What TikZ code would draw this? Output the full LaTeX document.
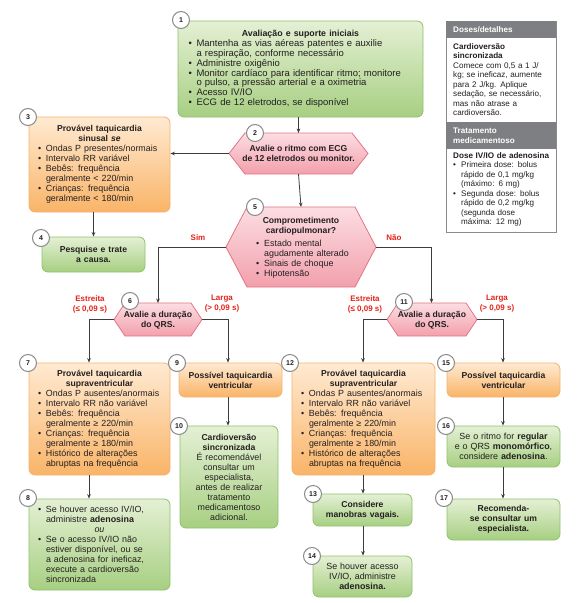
\documentclass[tikz,border=0pt]{standalone}
\usepackage{fontspec}
\setmainfont{Liberation Sans}
\usetikzlibrary{arrows.meta,calc}

\definecolor{txt}{HTML}{231F20}
\definecolor{gtop}{HTML}{E4F0D4}
\definecolor{gbot}{HTML}{A7CF82}
\definecolor{gbrd}{HTML}{8DC26A}
\definecolor{otop}{HTML}{FFEAD2}
\definecolor{obot}{HTML}{F9B468}
\definecolor{obrd}{HTML}{F4B36E}
\definecolor{ptop}{HTML}{FCDDE2}
\definecolor{pbot}{HTML}{F2A0AC}
\definecolor{pbrd}{HTML}{E27486}
\definecolor{redl}{HTML}{E2231A}
\definecolor{linec}{HTML}{3C3C3C}
\definecolor{hdr}{HTML}{7E7F82}
\definecolor{cbrd}{HTML}{8A8A8A}

\newcommand{\bl}[1]{{\leftskip=8pt\noindent\hspace*{-8pt}\makebox[8pt][l]{•}#1\par}}
\newcommand{\ttl}[1]{{\centering\fontsize{8.6}{10}\selectfont\bfseries #1\par}}
\newcommand{\hexa}[6]{% name, cx, cy, half width, half height, inset
  \coordinate (#1L) at ({#2-#4},#3);
  \coordinate (#1R) at ({#2+#4},#3);
  \coordinate (#1T) at (#2,{#3-#5});
  \coordinate (#1B) at (#2,{#3+#5});
  \path[hexs] (#1L) -- ({#2-#4+#6},{#3-#5}) -- ({#2+#4-#6},{#3-#5}) -- (#1R)
     -- ({#2+#4-#6},{#3+#5}) -- ({#2-#4+#6},{#3+#5}) -- cycle;}

\tikzset{
  basebox/.style={rounded corners=6pt, line width=0.8pt, text=txt, inner sep=0pt,
     align=left, font=\fontsize{8.9}{10}\selectfont},
  gbox/.style={basebox, draw=gbrd, top color=gtop, bottom color=gbot},
  obox/.style={basebox, draw=obrd, top color=otop, bottom color=obot},
  hexs/.style={draw=pbrd, line width=0.8pt, top color=ptop, bottom color=pbot},
  htext/.style={text=txt, inner sep=0pt, align=center, font=\fontsize{8.6}{10}\selectfont\bfseries},
  num/.style={circle, draw=cbrd, fill=white, line width=1pt, minimum size=17pt,
     inner sep=0pt, font=\fontsize{7}{7}\selectfont\bfseries, text=txt},
  lab/.style={text=redl, inner sep=0pt, align=center, font=\fontsize{8}{10}\selectfont\bfseries},
  arr/.style={-{Stealth[length=4.5pt,width=3.6pt]}, draw=linec, line width=0.8pt},
  ptext/.style={text=txt, inner sep=0pt, align=left, font=\fontsize{8.1}{9.5}\selectfont},
}

\begin{document}
\begin{tikzpicture}[x=1pt,y=-1pt]
\useasboundingbox (0,0) rectangle (582,603);

% ---------- boxes ----------
\node[gbox, minimum width=245pt, minimum height=96pt, text width=224pt, font=\fontsize{9.5}{9.8}\selectfont] (b1) at (300.5,69) {%
{\centering\fontsize{8.8}{10.5}\selectfont\bfseries Avaliação e suporte iniciais\par}
\bl{Mantenha as vias aéreas patentes e auxilie\\a respiração, conforme necessário}
\bl{Administre oxigênio}
\bl{Monitor cardíaco para identificar ritmo; monitore\\o pulso, a pressão arterial e a oximetria}
\bl{Acesso IV/IO}
\bl{ECG de 12 eletrodos, se disponível}};

\node[obox, minimum width=141pt, minimum height=95pt, text width=123pt] (b3) at (99.5,164.5) {%
\ttl{Provável taquicardia\\sinusal \textit{se}}
\bl{Ondas P presentes/normais}
\bl{Intervalo RR variável}
\bl{Bebês: frequência\\geralmente < 220/min}
\bl{Crianças: frequência\\geralmente < 180/min}};

\node[gbox, minimum width=103pt, minimum height=35pt, text width=95pt] (b4) at (93.5,254.5) {%
\ttl{Pesquise e trate\\a causa.}};

\node[obox, minimum width=141pt, minimum height=112pt, text width=123pt] (b7) at (99.5,419) {%
\ttl{Provável taquicardia\\supraventricular}
\bl{Ondas P ausentes/anormais}
\bl{Intervalo RR não variável}
\bl{Bebês: frequência\\geralmente ≥ 220/min}
\bl{Crianças: frequência\\geralmente ≥ 180/min}
\bl{Histórico de alterações\\abruptas na frequência}};

\node[gbox, minimum width=141pt, minimum height=91pt, text width=123pt] (b8) at (99.5,544.5) {%
\bl{Se houver acesso IV/IO,\\administre \textbf{adenosina}}
{\centering\itshape ou\par}
\bl{Se o acesso IV/IO não\\estiver disponível, ou se\\a adenosina for ineficaz,\\execute a cardioversão\\sincronizada}};

\node[obox, minimum width=103pt, minimum height=34pt, text width=97pt] (b9) at (230.5,380) {%
\ttl{Possível taquicardia\\ventricular}};

\node[gbox, minimum width=98pt, minimum height=102pt, text width=92pt] (b10) at (229,477) {%
\ttl{Cardioversão\\sincronizada}
{\centering É recomendável\\consultar um\\especialista,\\antes de realizar\\tratamento\\medicamentoso\\adicional.\par}};

\node[obox, minimum width=143pt, minimum height=112pt, text width=125pt] (b12) at (363.5,419) {%
\ttl{Provável taquicardia\\supraventricular}
\bl{Ondas P ausentes/anormais}
\bl{Intervalo RR não variável}
\bl{Bebês: frequência\\geralmente ≥ 220/min}
\bl{Crianças: frequência\\geralmente ≥ 180/min}
\bl{Histórico de alterações\\abruptas na frequência}};

\node[gbox, minimum width=99pt, minimum height=32pt, text width=93pt] (b13) at (362.5,510) {%
\ttl{Considere\\manobras vagais.}};

\node[gbox, minimum width=99pt, minimum height=41pt, text width=93pt] (b14) at (362.5,576.5) {%
{\centering Se houver acesso\\IV/IO, administre\\\textbf{adenosina.}\par}};

\node[obox, minimum width=113pt, minimum height=34pt, text width=107pt] (b15) at (503.5,380) {%
\ttl{Possível taquicardia\\ventricular}};

\node[gbox, minimum width=113pt, minimum height=41pt, text width=107pt] (b16) at (503.5,446.5) {%
{\centering Se o ritmo for \textbf{regular}\\e o QRS \textbf{monomórfico},\\considere \textbf{adenosina}.\par}};

\node[gbox, minimum width=113pt, minimum height=41pt, text width=107pt] (b17) at (503.5,519.5) {%
\ttl{Recomenda-\\se consultar um\\especialista.}};

% ---------- hexagons ----------
\hexa{h2}{298.5}{153.5}{69.5}{20.5}{16}
\node[htext] (t2) at (298.5,153.5) {Avalie o ritmo com ECG\\de 12 eletrodos ou monitor.};

\hexa{h5}{301}{247}{75}{40}{21}
\node[htext] (t5) at (301,226) {Comprometimento\\cardiopulmonar?};
\node[text=txt, inner sep=0pt, align=left, anchor=north west, text width=100pt, font=\fontsize{8.9}{10}\selectfont] (t5b) at (256,239.5) {%
\bl{Estado mental\\agudamente alterado}
\bl{Sinais de choque}
\bl{Hipotensão}};

\hexa{h6}{158}{319.5}{44}{16.5}{11}
\node[htext] (t6) at (158,320) {Avalie a duração\\do QRS.};

\hexa{h11}{432}{319.5}{45}{16.5}{11}
\node[htext] (t11) at (432,320) {Avalie a duração\\do QRS.};

% ---------- side panel ----------
\node[draw=cbrd, line width=0.8pt, fill=white, minimum width=110pt, minimum height=211pt, inner sep=0pt] (panel) at (501,126.5) {};
\node[fill=hdr, minimum width=110pt, minimum height=17pt, inner sep=0pt] (hd1) at (501,29.5) {};
\node[anchor=west, text=white, inner sep=0pt, font=\fontsize{8.1}{9.5}\selectfont\bfseries] (hd1t) at (453,29.5) {Doses/detalhes};
\node[fill=hdr, minimum width=110pt, minimum height=27pt, inner sep=0pt] (hd2) at (501,135.5) {};
\node[anchor=west, text=white, inner sep=0pt, align=left, font=\fontsize{8.1}{9.5}\selectfont\bfseries] (hd2t) at (453,135.5) {Tratamento\\medicamentoso};
\node[ptext, anchor=north west, text width=102pt] (pt1) at (453,43) {%
\textbf{Cardioversão\\sincronizada}\\Comece com 0,5 a 1 J/\\kg; se ineficaz, aumente\\para 2 J/kg. Aplique\\sedação, se necessário,\\mas não atrase a\\cardioversão.};
\node[ptext, anchor=north west, text width=102pt] (pt2) at (453,152) {%
\textbf{Dose IV/IO de adenosina}\par
\bl{Primeira dose: bolus\\rápido de 0,1 mg/kg\\(máximo: 6 mg)}
\bl{Segunda dose: bolus\\rápido de 0,2 mg/kg\\(segunda dose\\máxima: 12 mg)}};

% ---------- corner coordinates ----------
\coordinate (c5l) at (158,247);
\coordinate (c5r) at (431.5,247);
\coordinate (c6l) at (89,319.5);
\coordinate (c6r) at (228,319.5);
\coordinate (c11l) at (363,319.5);
\coordinate (c11r) at (503,319.5);

% ---------- connectors ----------
\draw[arr] (b1.south -| h2T) -- (h2T);
\draw[arr] (h2L) -- (h2L -| b3.east);
\draw[arr] (b3.south -| b4.north) -- (b4.north);
\draw[arr] (h2B) -- (h5T);
\draw[arr] (h5L) -- (c5l) -- (h6T);
\draw[arr] (h5R) -- (c5r) -- (c5r |- h11T);
\draw[arr] (h6L) -- (c6l) -- (c6l |- b7.north);
\draw[arr] (h6R) -- (c6r) -- (c6r |- b9.north);
\draw[arr] (c6r |- b9.south) -- (c6r |- b10.north);
\draw[arr] (c6l |- b7.south) -- (c6l |- b8.north);
\draw[arr] (h11L) -- (c11l) -- (c11l |- b12.north);
\draw[arr] (h11R) -- (c11r) -- (c11r |- b15.north);
\draw[arr] (c11r |- b15.south) -- (c11r |- b16.north);
\draw[arr] (c11r |- b16.south) -- (c11r |- b17.north);
\draw[arr] (c11l |- b12.south) -- (c11l |- b13.north);
\draw[arr] (c11l |- b13.south) -- (c11l |- b14.north);

% ---------- labels ----------
\node[lab] (lsim) at (198,238) {Sim};
\node[lab] (lnao) at (394,238) {Não};
\node[lab] (le6) at (90,304) {Estreita\\(≤ 0,09 s)};
\node[lab] (ll6) at (222,304) {Larga\\(> 0,09 s)};
\node[lab] (le11) at (365,304) {Estreita\\(≤ 0,09 s)};
\node[lab] (ll11) at (497,304) {Larga\\(> 0,09 s)};

% ---------- number circles ----------
\node[num] (n1) at (181,20) {1};
\node[num] (n2) at (255,133) {2};
\node[num] (n3) at (28,117) {3};
\node[num] (n4) at (41,238) {4};
\node[num] (n5) at (255,207) {5};
\node[num] (n6) at (130,301) {6};
\node[num] (n7) at (28,363) {7};
\node[num] (n8) at (28,498) {8};
\node[num] (n9) at (177,363) {9};
\node[num] (n10) at (179,426) {10};
\node[num] (n11) at (404,302) {11};
\node[num] (n12) at (290,363) {12};
\node[num] (n13) at (313,494) {13};
\node[num] (n14) at (312,556) {14};
\node[num] (n15) at (446,363) {15};
\node[num] (n16) at (446,426) {16};
\node[num] (n17) at (444,498) {17};
\end{tikzpicture}
\end{document}
